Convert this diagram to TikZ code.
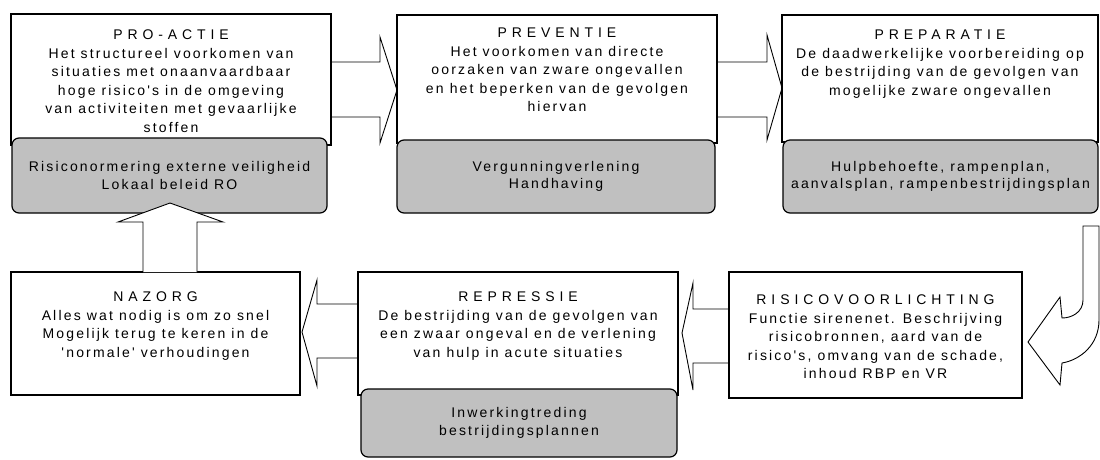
\documentclass[tikz,border=0pt]{standalone}
\usepackage{fontspec}
\setmainfont{Liberation Sans}
\newfontfamily\bodyfont[LetterSpace=15.5]{Liberation Sans}
\newfontfamily\headfont[LetterSpace=35]{Liberation Sans}
\usepackage{tikz}
\usetikzlibrary{calc}
\usetikzlibrary{positioning}
\definecolor{boxgrey}{RGB}{192,192,192}
\tikzset{>=latex}
\tikzset{
    whitebox/.style={draw,fill=white,line width=1.2pt,inner sep=0pt,outer sep=0pt},
    greybox/.style={draw,fill=boxgrey,rounded corners=7pt,line width=1.2pt,inner sep=0pt,
        outer sep=0pt,align=center,font=\bodyfont\fontsize{14}{17.5}\selectfont},
    boxtext/.style={align=center,inner sep=0pt,font=\bodyfont\fontsize{14}{18.5}\selectfont},
    blockarrow/.style={draw,line width=0.9pt,line join=miter}
}

\begin{document}
\begin{tikzpicture}[x=1pt,y=-1pt]
    \useasboundingbox (0,0) rectangle (1100,459);

    \node [whitebox,minimum width=320pt,minimum height=131pt] (proactie) at (171,79.5) {};
    \node [boxtext,below=16pt of proactie.north] (proactietxt)
    {{\headfont PRO-ACTIE}\\Het structureel voorkomen van\\situaties met onaanvaardbaar\\
    hoge risico's in de omgeving\\van activiteiten met gevaarlijke\\stoffen};
    \node [greybox,minimum width=315pt,minimum height=75pt] (proactiegrey) at (169.5,175.5)
    {Risiconormering externe veiligheid\\Lokaal beleid RO};

    \node [whitebox,minimum width=320pt,minimum height=128pt] (preventie) at (557,79) {};
    \node [boxtext,below=13pt of preventie.north] (preventietxt)
    {{\headfont PREVENTIE}\\Het voorkomen van directe\\oorzaken van zware ongevallen\\
    en het beperken van de gevolgen\\hiervan};
    \node [greybox,minimum width=318pt,minimum height=73pt] (preventiegrey) at (556,176.5)
    {Vergunningverlening\\Handhaving};

    \node [whitebox,minimum width=316pt,minimum height=127pt] (preparatie) at (940,78.5) {};
    \node [boxtext,below=15pt of preparatie.north] (preparatietxt)
    {{\headfont PREPARATIE}\\De daadwerkelijke voorbereiding op\\de bestrijding van de gevolgen van\\
    mogelijke zware ongevallen};
    \node [greybox,minimum width=315pt,minimum height=73pt] (preparatiegrey) at (940.5,176.5)
    {Hulpbehoefte, rampenplan,\\aanvalsplan, rampenbestrijdingsplan};

    \node [whitebox,minimum width=293pt,minimum height=126pt] (risico) at (875.5,335) {};
    \node [boxtext,below=23pt of risico.north] (risicotxt)
    {{\headfont RISICOVOORLICHTING}\\Functie sirenenet. Beschrijving\\risicobronnen, aard van de\\
    risico's, omvang van de schade,\\inhoud RBP en VR};

    \node [whitebox,minimum width=320pt,minimum height=123pt] (repressie) at (518,333.5) {};
    \node [boxtext,below=20pt of repressie.north] (repressietxt)
    {{\headfont REPRESSIE}\\De bestrijding van de gevolgen van\\een zwaar ongeval en de verlening\\
    van hulp in acute situaties};
    \node [greybox,minimum width=316pt,minimum height=68pt] (repressiegrey) at (519,423)
    {Inwerkingtreding\\bestrijdingsplannen};

    \node [whitebox,minimum width=289pt,minimum height=123pt] (nazorg) at (155.5,333.5) {};
    \node [boxtext,below=20pt of nazorg.north] (nazorgtxt)
    {{\headfont NAZORG}\\Alles wat nodig is om zo snel\\Mogelijk terug te keren in de\\
    'normale' verhoudingen};

    \draw [blockarrow] (proactie.east |- 0,62) -- (380,62) -- (380,37) -- (preventie.west |- 0,90)
    -- (380,143) -- (380,117) -- (proactie.east |- 0,117);

    \draw [blockarrow] (preventie.east |- 0,62) -- (767,62) -- (767,35) -- (preparatie.west |- 0,88)
    -- (767,140) -- (767,117) -- (preventie.east |- 0,117);

    \coordinate (bendtop) at (1083,226);
    \coordinate (bendtip) at (1028,342);
    \draw [blockarrow] (bendtop) -- (1099,226) -- (1099,320)
    .. controls (1099,345) and (1080,360) .. (1062,363) -- (1060,385) -- (bendtip)
    -- (1060,297) -- (1062,318) .. controls (1072,318) and (1083,312) .. (1083,300) -- cycle;

    \draw [blockarrow] (risico.west |- 0,309) -- (693,309) -- (693,283) -- (682,333)
    -- (693,390) -- (693,363) -- (risico.west |- 0,363);

    \draw [blockarrow] (repressie.west |- 0,304) -- (317,304) -- (317,280) -- (302,332)
    -- (317,386) -- (317,358) -- (repressie.west |- 0,358);

    \draw [blockarrow,fill=white] (nazorg.north -| 143,0) -- (143,222) -- (118,222) -- (170,203)
    -- (223,222) -- (197,222) -- (nazorg.north -| 197,0);

\end{tikzpicture}
\end{document}
